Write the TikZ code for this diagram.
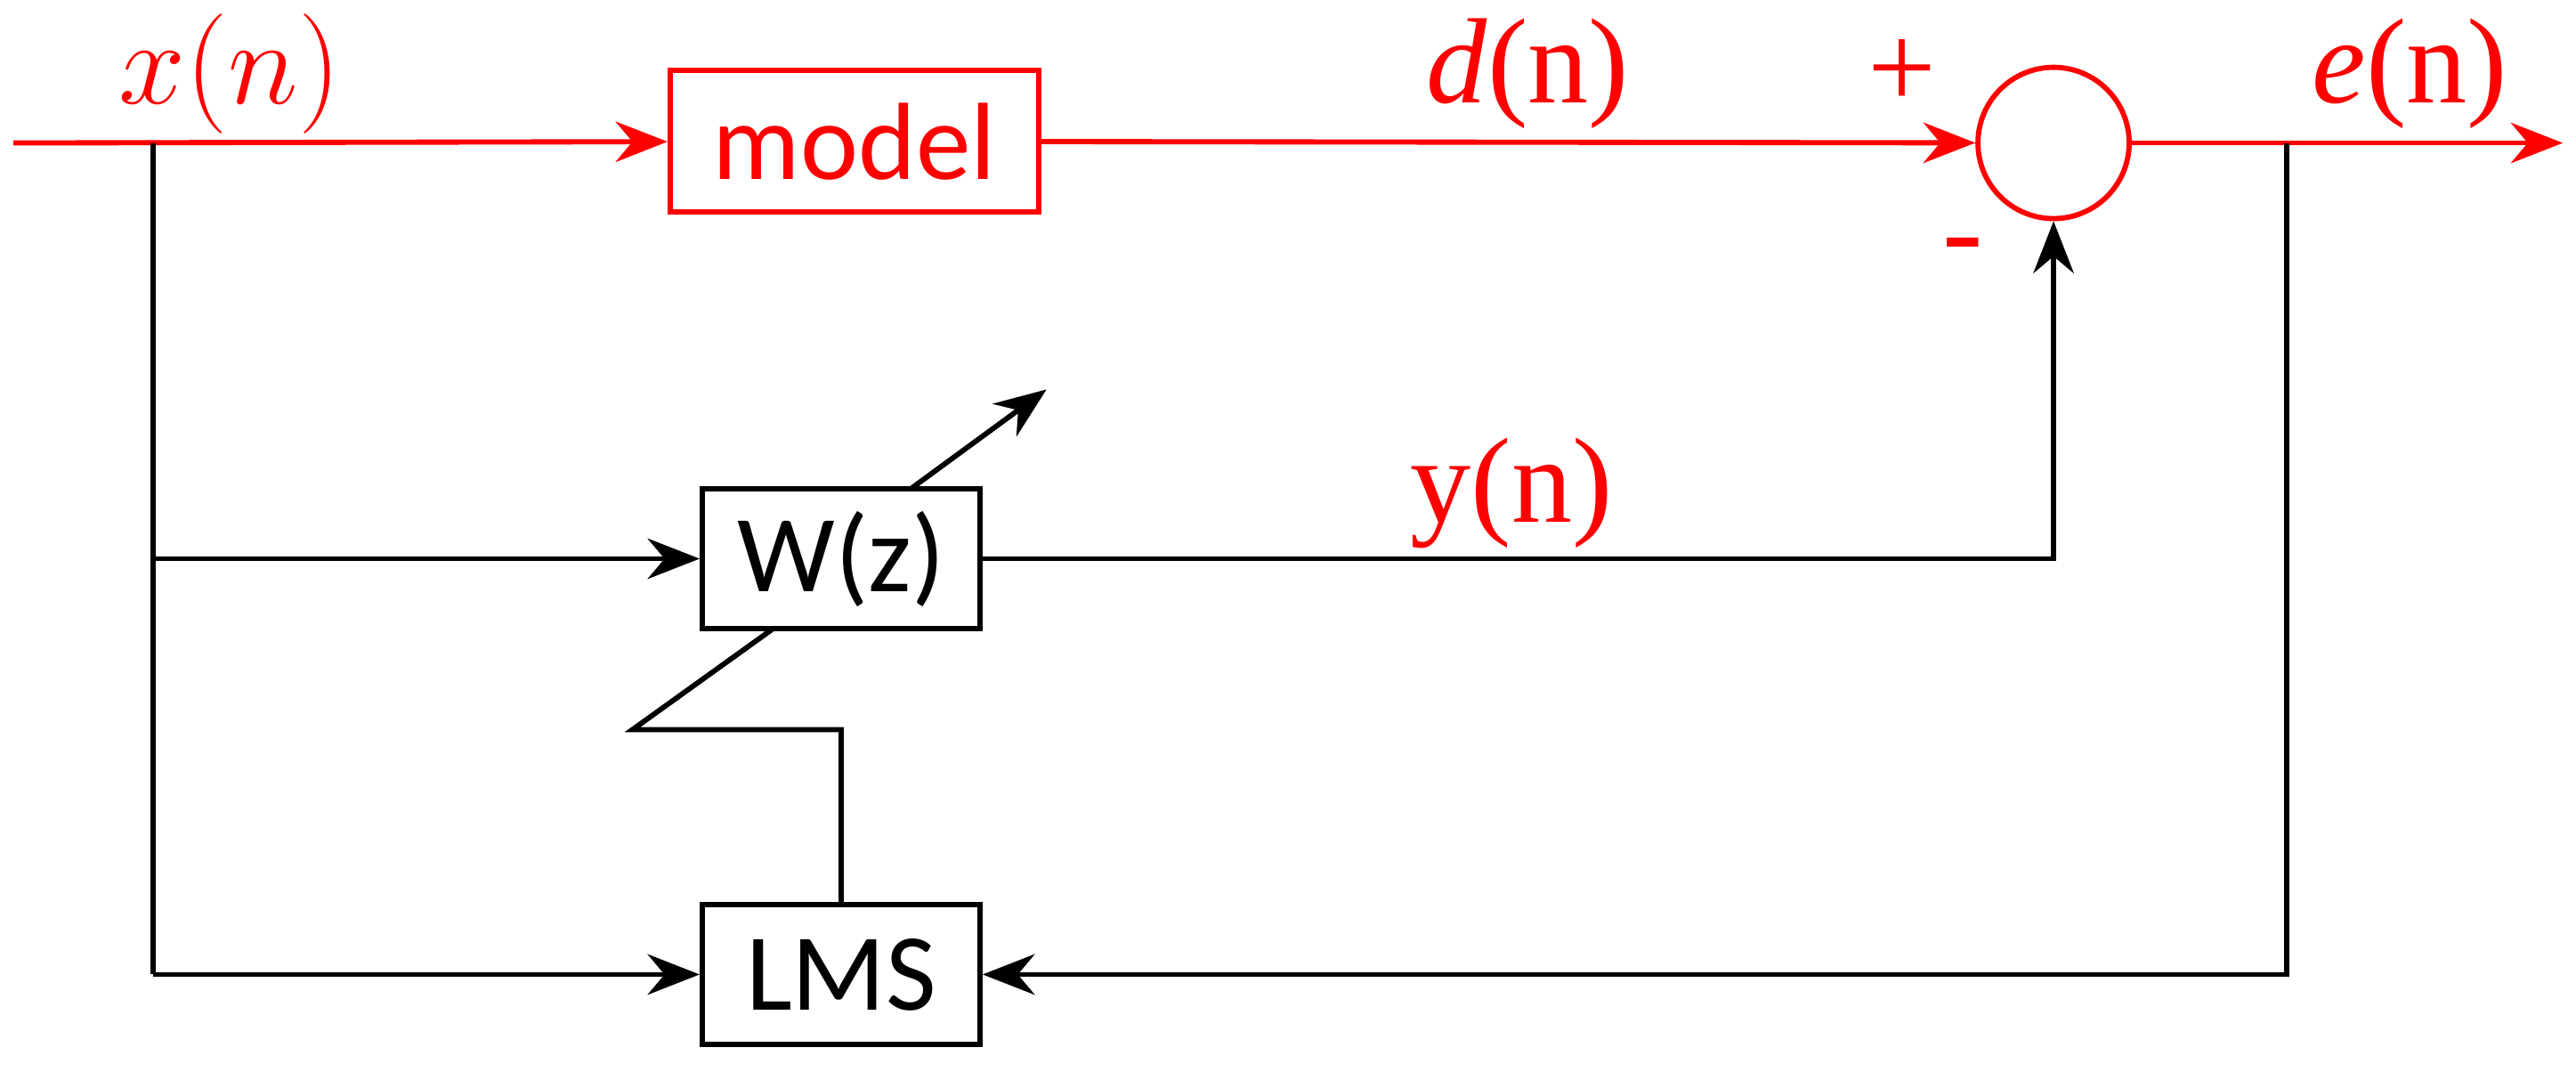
\documentclass[tikz,border=0pt]{standalone}
\usepackage{fontspec}
\setmainfont{Liberation Serif}
\newfontfamily\boxfont{Carlito}
\usetikzlibrary{positioning,arrows.meta}
\definecolor{colorsig}{RGB}{255,0,0}

\begin{document}
\begin{tikzpicture}[
    x=0.01cm, y=-0.01cm,
    line width=0.9pt,
    >={Stealth[length=9pt,width=7pt]},
    block/.style={draw,rectangle,minimum width=1.69cm,minimum height=0.85cm,inner sep=0pt,font={\boxfont\fontsize{19}{22}\selectfont}},
    signal/.style={text=colorsig,font={\fontsize{21}{24}\selectfont}},
]
    \useasboundingbox (0,0) rectangle (1568,652);

    % Blocks
    \node[block,draw=colorsig,text=colorsig,minimum width=2.24cm,minimum height=0.86cm] (model) at (520,86) {model};
    \node[draw=colorsig,circle,minimum size=0.92cm,inner sep=0pt] (sum) at (1250,87) {};
    \node[block] (filter) at (512,340) {W(z)};
    \node[block] (lms) at (512,593) {LMS};

    % Points
    \coordinate (in) at (8,87);
    \coordinate (out) at (1560,87);
    \coordinate (xtap) at (93,87);
    \coordinate (etap) at (1392,87);
    \coordinate (knee) at (385,444);
    \coordinate (tip) at (637,237);

    % Signal path
    \draw[->,colorsig] (in) -- (model);
    \draw[->,colorsig] (model) -- (sum);
    \draw[->,colorsig] (sum) -- (out);

    % Adaptive path
    \draw (xtap) -- (xtap |- lms);
    \draw[->] (xtap |- filter) -- (filter);
    \draw[->] (xtap |- lms) -- (lms);
    \draw[->] (filter) -| (sum);
    \draw[->] (etap) |- (lms);
    \draw (lms) -- (lms.north |- knee) -- (knee) -- (470,383);
    \draw[->] (555,297) -- (tip);

    % Labels
    \node[signal] (xlab) at (140,45) {$x(n)$};
    \node[signal] (dlab) at (930,45) {\textit{d}(n)};
    \node[signal] (plus) at (1158,45) {+};
    \node[signal] (minus) at (1195,155) {-};
    \node[signal] (elab) at (1467,45) {\textit{e}(n)};
    \node[signal] (ylab) at (920,300) {y(n)};
\end{tikzpicture}
\end{document}
